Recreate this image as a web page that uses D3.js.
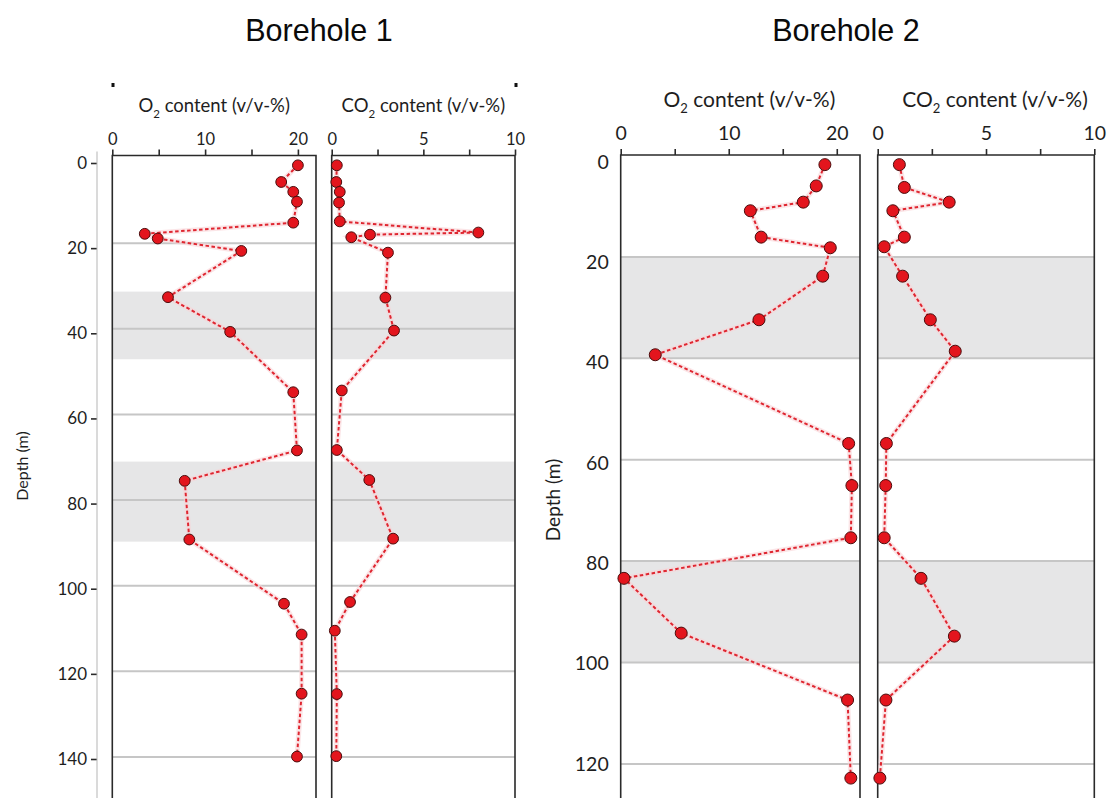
<!DOCTYPE html>
<html>
<head>
<meta charset="utf-8">
<script src="https://cdn.jsdelivr.net/npm/d3@7"></script>
<style>
  body { margin: 0; background: #fff; }
  svg { display: block; }
</style>
</head>
<body>
<div id="chart"></div>
<script>
// ---- Datos ----
const titles = ['Borehole 1', 'Borehole 2'];

// Borehole 1
const bh1O2Depth  = [1.8, 5.7, 8.0, 10.3, 15.2, 17.8, 18.9, 21.8, 32.6, 40.7, 54.8, 68.4, 75.5, 89.2, 104.2, 111.4, 125.2, 139.9];
const bh1O2       = [20.0, 18.2, 19.5, 19.9, 19.5, 3.5, 4.9, 13.9, 6.0, 12.7, 19.5, 19.9, 7.8, 8.3, 18.5, 20.4, 20.4, 19.9];
const bh1Co2Depth = [1.8, 5.7, 8.0, 10.5, 14.9, 17.5, 18.0, 18.6, 22.2, 32.7, 40.4, 54.4, 68.3, 75.3, 89.0, 103.8, 110.5, 125.3, 139.8];
const bh1Co2      = [0.28, 0.25, 0.44, 0.40, 0.44, 8.0, 2.09, 1.07, 3.07, 2.93, 3.4, 0.55, 0.28, 2.05, 3.35, 1.0, 0.17, 0.28, 0.25];
const bh1Bands    = [[31.3, 47.1], [71.0, 89.7]];
const bh1DepthTicks = [0, 20, 40, 60, 80, 100, 120, 140];

// Borehole 2
const bh2O2Depth  = [1.8, 6.0, 9.2, 10.9, 16.1, 18.2, 23.8, 32.4, 39.3, 56.8, 65.1, 75.4, 83.4, 94.2, 107.4, 122.8];
const bh2O2       = [18.9, 18.1, 16.9, 12.0, 13.0, 19.4, 18.7, 12.8, 3.2, 21.1, 21.4, 21.3, 0.3, 5.6, 21.0, 21.3];
const bh2Co2Depth = [1.8, 6.3, 9.2, 10.9, 16.1, 18.0, 23.8, 32.4, 38.6, 56.8, 65.1, 75.4, 83.4, 94.8, 107.4, 122.8];
const bh2Co2      = [1.0, 1.23, 3.3, 0.7, 1.23, 0.3, 1.15, 2.43, 3.58, 0.4, 0.37, 0.3, 2.0, 3.54, 0.38, 0.1];
const bh2Bands    = [[20, 40], [80, 100]];
const bh2DepthTicks = [0, 20, 40, 60, 80, 100, 120];

const o2Ticks  = [0, 5, 10, 15, 20];
const co2Ticks = [0, 2.5, 5, 7.5, 10];

//Colores fijos
const COLOR_POINT = '#e3151d',
COLOR_POINT_STROKE = '#4b0d0d',
COLOR_LINE = '#df2630',
COLOR_HALO = '#f9d3d7',
COLOR_BAND = '#e6e6e7',
COLOR_GRID = '#c6c6c6',
COLOR_FRAME = '#2a2a2a',
COLOR_TEXT = '#1e1e1e';

const FONT_PLOT = 'Lato, "Open Sans", sans-serif';
const FONT_TITLE = '"Liberation Sans", Arial, sans-serif';

let svg = d3.select('#chart')
    .append('svg')
        .attr('width', 1109)
        .attr('height', 798);

function zip(depths, values) {
    return depths.map(function(d, i) { return { depth: d, value: values[i] }; });
}

function drawBorehole(cfg) {
    let g = svg.append('g');

    let y = d3.scaleLinear()
        .domain([0, cfg.depthTicks[cfg.depthTicks.length - 1]])
        .range(cfg.yRange);

    // las etiquetas del eje están un poco desplazadas respecto a la rejilla
    let yLabel = d3.scaleLinear()
        .domain(y.domain())
        .range(cfg.yLabelRange);

    let bottom = 810;

    cfg.panels.forEach(function(p) {
        let x = d3.scaleLinear().domain(p.domain).range(p.range);
        let x0 = p.range[0], x1 = p.range[1];
        let pg = g.append('g');

        // bandas grises
        pg.selectAll('.band')
            .data(cfg.bands)
            .enter()
            .append('rect')
                .attr('x', x0)
                .attr('width', x1 - x0)
                .attr('y', function(d) { return y(d[0]); })
                .attr('height', function(d) { return y(d[1]) - y(d[0]); })
                .attr('fill', COLOR_BAND);

        // rejilla horizontal
        pg.selectAll('.grid')
            .data(cfg.depthTicks.filter(function(d) { return d > 0; }))
            .enter()
            .append('line')
                .attr('x1', x0)
                .attr('x2', x1)
                .attr('y1', function(d) { return y(d); })
                .attr('y2', function(d) { return y(d); })
                .attr('stroke', COLOR_GRID)
                .attr('stroke-width', 2);

        // marco del panel
        pg.append('path')
            .attr('d', 'M' + x0 + ',' + bottom + 'V' + cfg.top + 'H' + x1 + 'V' + bottom)
            .attr('fill', 'none')
            .attr('stroke', COLOR_FRAME)
            .attr('stroke-width', 1.6);

        // eje superior
        let axis = pg.append('g')
            .attr('transform', 'translate(0,' + cfg.top + ')')
            .call(d3.axisTop(x)
                .tickValues(p.ticks)
                .tickSize(6)
                .tickPadding(cfg.tickPad)
                .tickFormat(function(d) { return d % p.labelEvery === 0 ? d : ''; }));
        axis.select('.domain').remove();
        axis.selectAll('line').attr('stroke', COLOR_FRAME).attr('stroke-width', 1.6);
        axis.selectAll('text')
            .attr('fill', COLOR_TEXT)
            .style('font-family', FONT_PLOT)
            .style('font-size', cfg.tickFont + 'px');

        // título del panel
        let header = pg.append('text')
            .attr('x', (x0 + x1) / 2 + cfg.headerShift)
            .attr('y', cfg.headerY)
            .attr('text-anchor', 'middle')
            .attr('fill', COLOR_TEXT)
            .style('font-family', FONT_PLOT)
            .style('font-size', cfg.headerFont + 'px');
        header.append('tspan').text(p.gas);
        header.append('tspan')
            .attr('dy', cfg.headerFont * 0.3)
            .style('font-size', (cfg.headerFont * 0.62) + 'px')
            .text('2');
        header.append('tspan')
            .attr('dy', -cfg.headerFont * 0.3)
            .text(' content (v/v-%)');

        // línea discontinua + puntos
        let line = d3.line()
            .x(function(d) { return x(d.value); })
            .y(function(d) { return y(d.depth); });

        pg.append('path')
            .datum(p.data)
            .attr('fill', 'none')
            .attr('stroke', COLOR_HALO)
            .attr('stroke-width', 5)
            .attr('opacity', 0.6)
            .attr('d', line);

        pg.append('path')
            .datum(p.data)
            .attr('fill', 'none')
            .attr('stroke', COLOR_LINE)
            .attr('stroke-width', 2)
            .attr('stroke-dasharray', '3.5,2.5')
            .attr('d', line);

        pg.selectAll('.pt')
            .data(p.data)
            .enter()
            .append('circle')
                .attr('cx', function(d) { return x(d.value); })
                .attr('cy', function(d) { return y(d.depth); })
                .attr('r', cfg.radius)
                .attr('fill', COLOR_POINT)
                .attr('stroke', COLOR_POINT_STROKE)
                .attr('stroke-width', 1);
    });

    // eje de profundidad
    let yAxis = g.append('g')
        .attr('transform', 'translate(' + cfg.yAxisX + ',0)')
        .call(d3.axisLeft(yLabel)
            .tickValues(cfg.depthTicks)
            .tickSize(cfg.yTickSize)
            .tickPadding(cfg.yTickPad));
    yAxis.select('.domain').remove();
    yAxis.selectAll('line').attr('stroke', COLOR_FRAME).attr('stroke-width', 1.6);
    yAxis.selectAll('text')
        .attr('fill', COLOR_TEXT)
        .style('font-family', FONT_PLOT)
        .style('font-size', cfg.yFont + 'px');

    if (cfg.yLine) {
        g.append('line')
            .attr('x1', cfg.yAxisX).attr('x2', cfg.yAxisX)
            .attr('y1', cfg.top - 4).attr('y2', bottom)
            .attr('stroke', '#b5b5b5')
            .attr('stroke-width', 1);
    }

    g.append('text')
        .attr('transform', 'translate(' + cfg.depthLabelX + ',' + cfg.depthLabelY + ') rotate(-90)')
        .attr('text-anchor', 'middle')
        .attr('dy', '0.35em')
        .attr('fill', COLOR_TEXT)
        .style('font-family', FONT_PLOT)
        .style('font-size', cfg.depthFont + 'px')
        .text('Depth (m)');

    // título del sondeo
    g.append('text')
        .attr('x', cfg.titleX)
        .attr('y', 41)
        .attr('text-anchor', 'middle')
        .attr('fill', '#0a0a0a')
        .style('font-family', FONT_TITLE)
        .style('font-size', '30.5px')
        .text(cfg.title);

    // pequeñas marcas sueltas sobre la figura original
    if (cfg.marks) {
        g.selectAll('.mark')
            .data(cfg.marks)
            .enter()
            .append('rect')
                .attr('x', function(d) { return d - 1.5; })
                .attr('y', 83)
                .attr('width', 3)
                .attr('height', 4)
                .attr('fill', '#111');
    }
}

//////
///// Borehole 1
//////
drawBorehole({
    title: titles[0],
    titleX: 319,
    top: 155.5,
    yRange: [157.6, 757],
    yLabelRange: [163, 759],
    depthTicks: bh1DepthTicks,
    bands: bh1Bands,
    tickPad: 5,
    tickFont: 16.5,
    headerFont: 18.5,
    headerY: 112,
    headerShift: 0,
    yAxisX: 97,
    yTickSize: 6,
    yTickPad: 4,
    yFont: 17,
    depthFont: 16,
    yLine: true,
    depthLabelX: 22,
    depthLabelY: 466,
    radius: 5.4,
    marks: [113, 516],
    panels: [
        { gas: 'O', domain: [0, 21.95], range: [112.3, 316], ticks: o2Ticks, labelEvery: 10, data: zip(bh1O2Depth, bh1O2) },
        { gas: 'CO', domain: [0, 10], range: [331.7, 515], ticks: co2Ticks, labelEvery: 5, data: zip(bh1Co2Depth, bh1Co2) }
    ]
});

//////
///// Borehole 2
//////
drawBorehole({
    title: titles[1],
    titleX: 846,
    top: 155,
    yRange: [155.5, 763.9],
    yLabelRange: [162, 764],
    depthTicks: bh2DepthTicks,
    bands: bh2Bands,
    tickPad: 9,
    tickFont: 19.5,
    headerFont: 21,
    headerY: 107,
    headerShift: 9,
    yAxisX: 620.7,
    yTickSize: 0,
    yTickPad: 12,
    yFont: 19.5,
    depthFont: 19,
    yLine: false,
    depthLabelX: 553,
    depthLabelY: 500,
    radius: 6,
    marks: null,
    panels: [
        { gas: 'O', domain: [0, 22.15], range: [620.7, 860], ticks: o2Ticks, labelEvery: 10, data: zip(bh2O2Depth, bh2O2) },
        { gas: 'CO', domain: [0, 10], range: [877.7, 1094.3], ticks: co2Ticks, labelEvery: 5, data: zip(bh2Co2Depth, bh2Co2) }
    ]
});
</script>
</body>
</html>
